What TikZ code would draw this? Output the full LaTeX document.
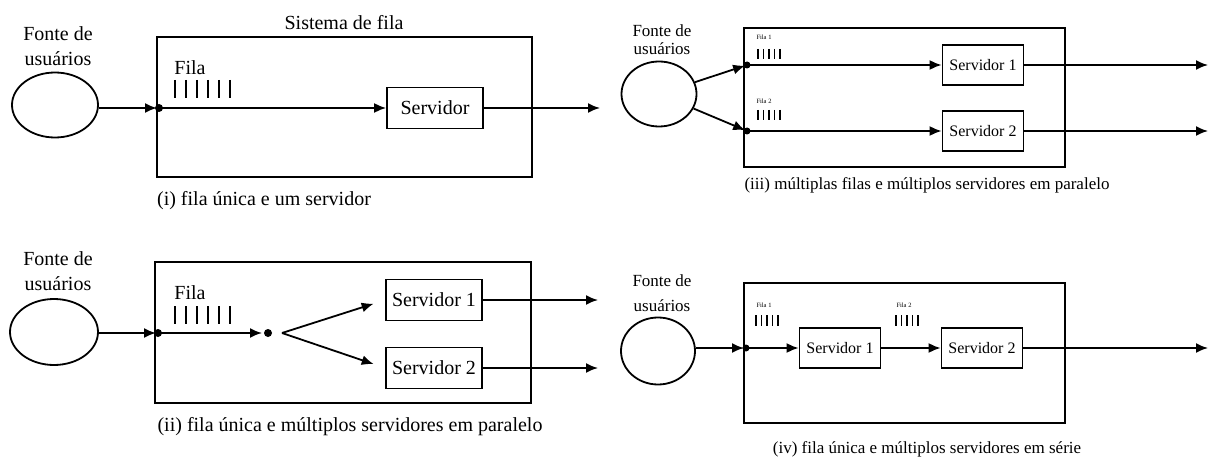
\documentclass[tikz,border=0pt]{standalone}
\usepackage{fontspec}
\setmainfont{Liberation Serif}
\usepackage{tikz}
\usetikzlibrary{positioning,arrows.meta,shapes.geometric}

\begin{document}
\begin{tikzpicture}[x=1pt,y=-1pt,line width=1.8pt,
  seta/.style={-{Latex[length=12pt,width=10pt]}},
  fonte/.style={draw,ellipse,inner sep=0pt},
  caixa/.style={draw,rectangle,inner sep=0pt},
  grande/.style={inner sep=0pt,font=\fontsize{20}{25}\selectfont},
  media/.style={inner sep=0pt,font=\fontsize{17}{18}\selectfont},
  pequena/.style={inner sep=0pt,font=\fontsize{6.5}{7}\selectfont},
  servg/.style={caixa,font=\fontsize{20}{24}\selectfont,minimum width=96pt,minimum height=41pt},
  servm/.style={caixa,font=\fontsize{16}{18}\selectfont,minimum width=81pt,minimum height=40pt}]
\useasboundingbox (0,0) rectangle (1212,457);

% (i) fila unica e um servidor
\node[grande,align=center] (lab1) at (58,46) {Fonte de\\usuários};
\node[fonte,minimum width=86pt,minimum height=65pt] (src1) at (55,105) {};
\node[caixa,minimum width=375pt,minimum height=140pt] (sis1) at (344.5,107) {};
\node[grande] (tit1) at (344,23) {Sistema de fila};
\node[grande] (fila1) at (190,68) {Fila};
\foreach \i in {0,...,5} \draw (175+11*\i,80) -- ++(0,18);
\node[servg] (serv1) at (435,108) {Servidor};
\coordinate (e1) at (159,108);
\coordinate (out1) at (600,108);
\draw[seta,shorten >=2pt] (src1.east |- e1) -- (e1);
\draw[seta] (e1) -- (serv1.west);
\draw[seta] (serv1.east) -- (out1);
\fill (e1) circle (4);
\node[grande] (leg1) at (264,201) {(i) fila única e um servidor};

% (ii) fila unica e multiplos servidores em paralelo
\node[grande,align=center] (lab2) at (58,271) {Fonte de\\usuários};
\node[fonte,minimum width=88pt,minimum height=66pt] (src2) at (54,332) {};
\node[caixa,minimum width=376pt,minimum height=141pt] (sis2) at (343,332.5) {};
\node[grande] (fila2) at (190,293) {Fila};
\foreach \i in {0,...,5} \draw (175+11*\i,306) -- ++(0,18);
\node[servg] (serv2a) at (434,300) {Servidor 1};
\node[servg] (serv2b) at (434,368) {Servidor 2};
\coordinate (e2) at (158,333);
\coordinate (r2) at (268,333);
\coordinate (b2) at (282,333);
\coordinate (out2a) at (598,300);
\coordinate (out2b) at (598,368);
\draw[seta,shorten >=2pt] (src2.east |- e2) -- (e2);
\draw[seta,shorten >=6pt] (e2) -- (r2);
\draw[seta,shorten >=12pt] (b2) -- (serv2a.west);
\draw[seta,shorten >=12pt] (b2) -- (serv2b.west);
\draw[seta] (serv2a.east) -- (out2a);
\draw[seta] (serv2b.east) -- (out2b);
\fill (e2) circle (4);
\fill (r2) circle (4);
\node[grande] (leg2) at (350,427) {(ii) fila única e múltiplos servidores em paralelo};

% (iii) multiplas filas e multiplos servidores em paralelo
\node[media,align=center] (lab3) at (662,40) {Fonte de\\usuários};
\node[fonte,minimum width=75pt,minimum height=65pt] (src3) at (659,94) {};
\node[caixa,minimum width=321pt,minimum height=139pt] (sis3) at (904.5,97.5) {};
\node[pequena] (fila3a) at (764,37) {Fila 1};
\foreach \i in {0,...,4} \draw[line width=1.4pt] (758+5.5*\i,49) -- ++(0,10);
\node[pequena] (fila3b) at (764,101) {Fila 2};
\foreach \i in {0,...,4} \draw[line width=1.4pt] (758+5.5*\i,110) -- ++(0,10);
\node[servm] (serv3a) at (983,65) {Servidor 1};
\node[servm] (serv3b) at (983,131) {Servidor 2};
\coordinate (e3a) at (747,65);
\coordinate (e3b) at (747,131);
\coordinate (out3a) at (1208,65);
\coordinate (out3b) at (1208,131);
\draw[seta,shorten >=2pt] (src3) -- (e3a);
\draw[seta,shorten >=2pt] (src3) -- (e3b);
\draw[seta] (e3a) -- (serv3a.west);
\draw[seta] (e3b) -- (serv3b.west);
\draw[seta] (serv3a.east) -- (out3a);
\draw[seta] (serv3b.east) -- (out3b);
\fill (e3a) circle (3.5);
\fill (e3b) circle (3.5);
\node[media] (leg3) at (927,185) {(iii) múltiplas filas e múltiplos servidores em paralelo};

% (iv) fila unica e multiplos servidores em serie
\node[media,align=center,font=\fontsize{17}{25}\selectfont] (lab4) at (662,293) {Fonte de\\usuários};
\node[fonte,minimum width=74pt,minimum height=67pt] (src4) at (658,351) {};
\node[caixa,minimum width=321pt,minimum height=140pt] (sis4) at (904.5,353) {};
\node[pequena] (fila4a) at (764,305) {Fila 1};
\foreach \i in {0,...,4} \draw[line width=1.4pt] (756+5.5*\i,315) -- ++(0,11);
\node[pequena] (fila4b) at (904,305) {Fila 2};
\foreach \i in {0,...,4} \draw[line width=1.4pt] (896+5.5*\i,315) -- ++(0,11);
\node[servm] (serv4a) at (840,348) {Servidor 1};
\node[servm] (serv4b) at (982,348) {Servidor 2};
\coordinate (e4) at (746,348);
\coordinate (out4) at (1208,348);
\draw[seta,shorten >=2pt] (src4.east |- e4) -- (e4);
\draw[seta] (e4) -- (serv4a.west);
\draw[seta] (serv4a.east) -- (serv4b.west);
\draw[seta] (serv4b.east) -- (out4);
\fill (e4) circle (3.5);
\node[media] (leg4) at (927,449) {(iv) fila única e múltiplos servidores em série};
\end{tikzpicture}
\end{document}
